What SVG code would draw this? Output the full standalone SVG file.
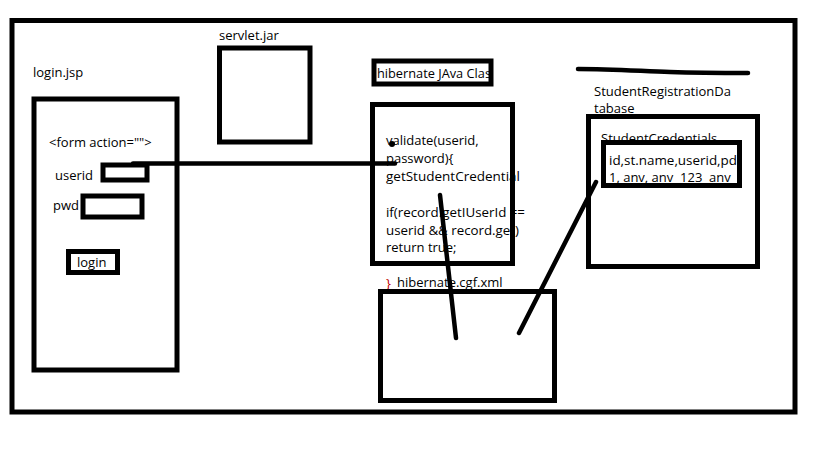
<svg xmlns="http://www.w3.org/2000/svg" width="819" height="460" viewBox="0 0 819 460">
<style>
.b{fill:none;stroke:#000;stroke-width:5}
.bw{fill:#fff;stroke:#000;stroke-width:5}
.t{font-family:"Open Sans","Noto Sans","Liberation Sans",sans-serif;font-size:13px;fill:#000;white-space:pre}
.c{fill:none;stroke:#000;stroke-width:4.5;stroke-linecap:round}
</style>
<rect width="819" height="460" fill="#fff"/>
<g id="frame"><rect class="b" x="12" y="20.5" width="783" height="391.5"/></g>
<g id="login-jsp">
<text class="t" x="33" y="77">login.jsp</text>
<rect class="b" x="34" y="99" width="143" height="271"/>
<text class="t" x="49" y="147">&lt;form action=""&gt;</text>
<text class="t" x="55" y="180">userid</text>
<rect class="b" x="103" y="165" width="44" height="15" stroke-width="4"/>
<text class="t" x="53" y="210">pwd</text>
<rect class="b" x="83" y="196" width="59" height="21" stroke-width="4"/>
<rect class="b" x="68.5" y="251.5" width="49" height="21" stroke-width="4"/>
<text class="t" x="77" y="267">login</text>
</g>
<g id="servlet-jar">
<text class="t" x="219" y="40">servlet.jar</text>
<rect class="b" x="219.5" y="48" width="90.5" height="94"/>
</g>
<g id="hibernate-class">
<text class="t" x="377" y="78" textLength="114" lengthAdjust="spacingAndGlyphs">hibernate JAva Clas</text>
<rect class="b" x="374" y="61" width="117" height="23" stroke-width="4"/>
<text class="t" x="386" y="145">validate(userid,</text>
<text class="t" x="386" y="163">password){</text>
<text class="t" x="386" y="181" textLength="134" lengthAdjust="spacingAndGlyphs">getStudentCredential</text>
<text class="t" x="386" y="217" textLength="139" lengthAdjust="spacingAndGlyphs">if(record.getIUserId ==</text>
<text class="t" x="386" y="235" textLength="133" lengthAdjust="spacingAndGlyphs">userid &amp;&amp; record.get)</text>
<text class="t" x="386" y="252">return true;</text>
<rect class="b" x="372.5" y="104.5" width="140" height="159"/>
</g>
<g id="hibernate-cfg">
<text class="t" x="386" y="288" style="fill:#c00000">}</text>
<text class="t" x="397" y="287">hibernate.cgf.xml</text>
<rect class="b" x="380.5" y="291.5" width="174" height="109"/>
</g>
<g id="database">
<path d="M578,69 C610,69 640,71 670,72 S730,73 748,73" fill="none" stroke="#000" stroke-width="4.5" stroke-linecap="round"/>
<text class="t" x="594" y="96">StudentRegistrationDa</text>
<text class="t" x="594" y="113">tabase</text>
<rect class="b" x="588.5" y="116.5" width="169" height="150"/>
<text class="t" x="601" y="143">StudentCredentials</text>
<rect class="bw" x="603.5" y="142.5" width="136" height="43"/>
<text class="t" x="609" y="165" textLength="128" lengthAdjust="spacingAndGlyphs">id,st.name,userid,pd</text>
<text class="t" x="609" y="182" xml:space="preserve">1, anv, anv  123  anv</text>
</g>
<g id="connectors">
<path class="c" d="M133,163.5 L395,163.5"/>
<circle cx="392" cy="144" r="3"/>
<path class="c" d="M440,195 L456,338"/>
<path class="c" d="M519,333 L596,182"/>
</g>
</svg>
